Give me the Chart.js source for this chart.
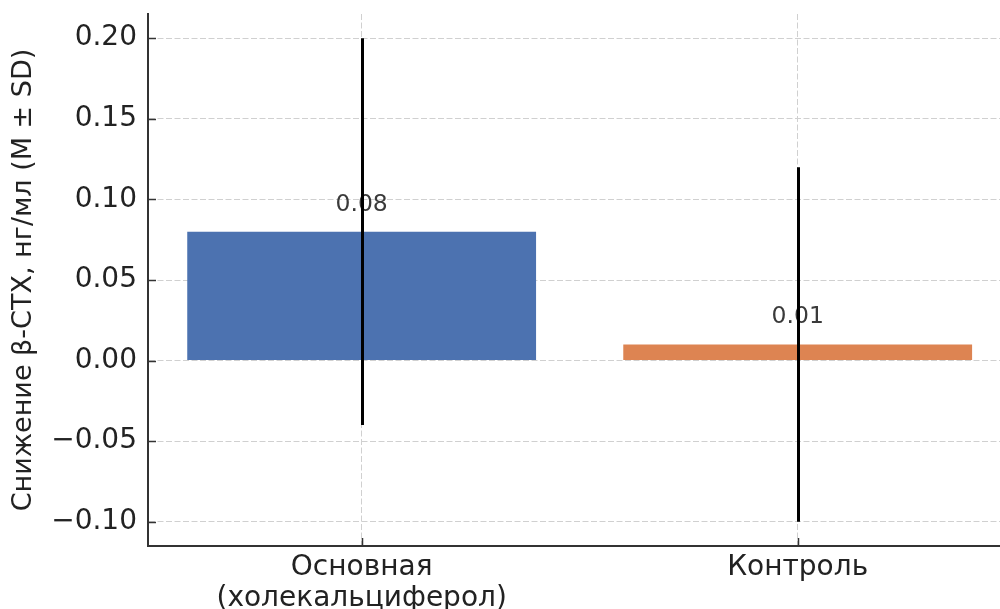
<!DOCTYPE html>
<html>
<head>
<meta charset="utf-8">
<script src="https://cdn.jsdelivr.net/npm/chart.js@4.4.1/dist/chart.umd.min.js"></script>
<style>
  html, body { margin: 0; padding: 0; background: #ffffff; }
  #wrap { width: 1000px; height: 609px; }
</style>
</head>
<body>
<div id="wrap"><canvas id="chart" width="1000" height="609"></canvas></div>
<script>
// Groups and their mean decrease with standard deviation
const categories = [["Основная", "(холекальциферол)"], "Контроль"];
const means = [0.08, 0.01];
const sds = [0.12, 0.11];
const barColors = ["#4C72B0", "#DD8452"];
const yTicks = [-0.10, -0.05, 0.00, 0.05, 0.10, 0.15, 0.20];
const yTitle = "Снижение β-CTX, нг/мл (M ± SD)";

const FONT = "'DejaVu Sans', sans-serif";
const AXIS_COLOR = "#333333";
const TEXT_COLOR = "#222222";
const GRID_COLOR = "#d0d0d0";

function fmt(v) {
  const s = Math.abs(v).toFixed(2);
  return v < -1e-9 ? "\u2212" + s : s;
}

// Inward tick marks, value labels and SD whiskers
const overlay = {
  id: "overlay",
  afterDatasetsDraw(chart) {
    const { ctx, scales } = chart;
    const x = scales.x, y = scales.y;
    const area = chart.chartArea;

    ctx.save();
    // value labels above bars
    ctx.font = "23.5px " + FONT;
    ctx.fillStyle = "#3a3a3a";
    ctx.textAlign = "center";
    ctx.textBaseline = "alphabetic";
    means.forEach((m, i) => {
      const px = x.getPixelForValue(i);
      const py = y.getPixelForValue(m + 0.01) - 5;
      ctx.fillText(m.toFixed(2), px, py);
    });

    // whiskers: mean ± SD
    ctx.strokeStyle = "#000000";
    ctx.lineWidth = 3;
    ctx.lineCap = "butt";
    means.forEach((m, i) => {
      const px = Math.round(x.getPixelForValue(i)) + 0.5;
      ctx.beginPath();
      ctx.moveTo(px, y.getPixelForValue(m - sds[i]));
      ctx.lineTo(px, y.getPixelForValue(m + sds[i]));
      ctx.stroke();
    });

    // inward tick marks
    ctx.strokeStyle = AXIS_COLOR;
    ctx.lineWidth = 1.5;
    yTicks.forEach(v => {
      const py = Math.round(y.getPixelForValue(v)) + 0.5;
      ctx.beginPath();
      ctx.moveTo(area.left, py);
      ctx.lineTo(area.left + 8, py);
      ctx.stroke();
    });
    means.forEach((m, i) => {
      const px = Math.round(x.getPixelForValue(i)) + 0.5;
      ctx.beginPath();
      ctx.moveTo(px, area.bottom);
      ctx.lineTo(px, area.bottom - 8);
      ctx.stroke();
    });
    ctx.restore();
  }
};

new Chart(document.getElementById("chart"), {
  type: "bar",
  data: {
    datasets: [{
      data: means.map((m, i) => ({ x: i, y: m })),
      backgroundColor: barColors,
      borderWidth: 0,
      barPercentage: 1.0,
      categoryPercentage: 0.8
    }]
  },
  options: {
    responsive: false,
    animation: false,
    devicePixelRatio: 1,
    layout: { padding: { top: 14, right: 0, left: 0, bottom: 0 } },
    plugins: {
      legend: { display: false },
      tooltip: { enabled: false }
    },
    scales: {
      x: {
        type: "linear",
        offset: false,
        min: -0.49,
        max: 1.464,
        afterBuildTicks(scale) {
          scale.ticks = categories.map((c, i) => ({ value: i }));
        },
        afterFit(scale) {
          scale.height = 63;
          scale.paddingLeft = 0;
          scale.paddingRight = 0;
        },
        ticks: {
          callback: (v, i) => categories[i],
          font: { family: FONT, size: 28, lineHeight: 1.08 },
          color: TEXT_COLOR,
          padding: 7,
          maxRotation: 0,
          autoSkip: false
        },
        grid: {
          offset: false,
          color: GRID_COLOR,
          lineWidth: 1,
          drawTicks: false
        },
        border: { color: AXIS_COLOR, width: 2, dash: [6, 2.5] }
      },
      y: {
        type: "linear",
        min: -0.115,
        max: 0.215,
        afterBuildTicks(scale) {
          scale.ticks = yTicks.map(v => ({ value: v }));
        },
        afterFit(scale) {
          scale.width = 148;
          scale.paddingTop = 0;
          scale.paddingBottom = 0;
        },
        ticks: {
          callback: v => fmt(v),
          font: { family: FONT, size: 28 },
          color: TEXT_COLOR,
          padding: 11
        },
        grid: {
          color: GRID_COLOR,
          lineWidth: 1,
          drawTicks: false
        },
        border: { color: AXIS_COLOR, width: 2, dash: [6, 2.5] },
        title: {
          display: true,
          text: yTitle,
          font: { family: FONT, size: 27 },
          color: TEXT_COLOR,
          padding: { top: 8, bottom: 0 }
        }
      }
    }
  },
  plugins: [overlay]
});
</script>
</body>
</html>
